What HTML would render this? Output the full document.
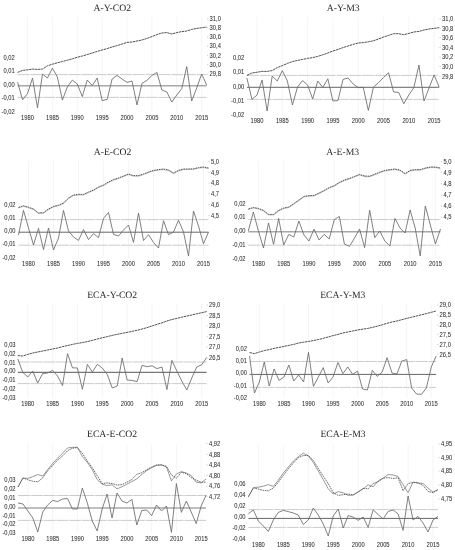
<!DOCTYPE html><html><head><meta charset="utf-8"><style>html,body{margin:0;padding:0;background:#fff;}svg{display:block;filter:blur(0.3px);}.t{font-family:"Liberation Serif",serif;font-size:9.7px;fill:#262626;text-rendering:geometricPrecision;}.a{font-family:"Liberation Sans",sans-serif;font-size:6.3px;fill:#333;stroke:#333;stroke-width:0.06px;}</style></head><body>
<svg width="455" height="550" viewBox="0 0 455 550">
<rect width="455" height="550" fill="#fff"/>
<g><line x1="27.55" y1="17" x2="27.55" y2="112" stroke="#f2f2f2" stroke-width="0.8"/><line x1="52.42" y1="17" x2="52.42" y2="112" stroke="#f2f2f2" stroke-width="0.8"/><line x1="77.30" y1="17" x2="77.30" y2="112" stroke="#f2f2f2" stroke-width="0.8"/><line x1="102.17" y1="17" x2="102.17" y2="112" stroke="#f2f2f2" stroke-width="0.8"/><line x1="127.05" y1="17" x2="127.05" y2="112" stroke="#f2f2f2" stroke-width="0.8"/><line x1="151.92" y1="17" x2="151.92" y2="112" stroke="#f2f2f2" stroke-width="0.8"/><line x1="176.80" y1="17" x2="176.80" y2="112" stroke="#f2f2f2" stroke-width="0.8"/><line x1="201.67" y1="17" x2="201.67" y2="112" stroke="#f2f2f2" stroke-width="0.8"/><line x1="17.60" y1="74.6" x2="206.65" y2="74.6" stroke="#c6c6c6" stroke-width="0.9" stroke-dasharray="12,0.8"/><line x1="17.60" y1="97.4" x2="206.65" y2="97.4" stroke="#c6c6c6" stroke-width="0.9" stroke-dasharray="12,0.8"/><line x1="17.60" y1="85.7" x2="206.65" y2="85.7" stroke="#a8a8a8" stroke-width="1.6"/><polyline points="17.60,72.40 22.58,70.40 27.55,69.80 32.52,69.10 37.50,69.40 42.48,69.10 47.45,65.80 52.42,64.20 57.40,62.80 62.38,61.50 67.35,60.20 72.32,58.80 77.30,57.30 82.28,56.00 87.25,54.60 92.22,53.00 97.20,51.40 102.17,50.00 107.15,48.60 112.12,47.00 117.10,45.60 122.07,44.00 127.05,42.40 132.03,42.00 137.00,41.00 141.97,40.00 146.95,38.40 151.92,36.60 156.90,34.60 161.87,33.00 166.85,32.60 171.82,34.00 176.80,32.60 181.77,31.60 186.75,31.00 191.72,29.40 196.70,28.40 201.67,27.80 206.65,27.00" fill="none" stroke="#3a3a3a" stroke-width="0.9" stroke-dasharray="2.4,0.6"/><polyline points="17.60,82.30 22.58,99.80 27.55,93.50 32.52,78.10 37.50,107.80 42.48,74.10 47.45,78.10 52.42,68.20 57.40,77.00 62.38,100.10 67.35,86.90 72.32,80.10 77.30,84.00 82.28,96.60 87.25,80.00 92.22,85.60 97.20,78.00 102.17,100.60 107.15,99.40 112.12,79.00 117.10,75.40 122.07,79.00 127.05,82.40 132.03,81.00 137.00,105.00 141.97,83.40 146.95,80.30 151.92,75.50 156.90,72.40 161.87,90.00 166.85,92.00 171.82,102.00 176.80,95.00 181.77,88.60 186.75,66.60 191.72,101.00 196.70,88.00 201.67,74.00 206.65,85.00" fill="none" stroke="#6a6a6a" stroke-width="0.85" stroke-linejoin="miter"/><text class="t" x="112.3" y="11.30" text-anchor="middle">A-Y-CO2</text><text class="a" transform="translate(14.8,59.70) scale(0.92,1)" text-anchor="end">0,02</text><text class="a" transform="translate(14.8,73.30) scale(0.92,1)" text-anchor="end">0,01</text><text class="a" transform="translate(14.8,86.60) scale(0.92,1)" text-anchor="end">0,00</text><text class="a" transform="translate(14.8,100.20) scale(0.92,1)" text-anchor="end">-0,01</text><text class="a" transform="translate(14.8,114.20) scale(0.92,1)" text-anchor="end">-0,02</text><line x1="207.00" y1="18.90" x2="208.30" y2="18.90" stroke="#c4c4c4" stroke-width="0.8"/><text class="a" transform="translate(209.6,21.10) scale(0.92,1)">31,0</text><line x1="207.00" y1="27.90" x2="208.30" y2="27.90" stroke="#c4c4c4" stroke-width="0.8"/><text class="a" transform="translate(209.6,30.10) scale(0.92,1)">30,8</text><line x1="207.00" y1="37.00" x2="208.30" y2="37.00" stroke="#c4c4c4" stroke-width="0.8"/><text class="a" transform="translate(209.6,39.20) scale(0.92,1)">30,6</text><line x1="207.00" y1="46.20" x2="208.30" y2="46.20" stroke="#c4c4c4" stroke-width="0.8"/><text class="a" transform="translate(209.6,48.40) scale(0.92,1)">30,4</text><line x1="207.00" y1="55.40" x2="208.30" y2="55.40" stroke="#c4c4c4" stroke-width="0.8"/><text class="a" transform="translate(209.6,57.60) scale(0.92,1)">30,2</text><line x1="207.00" y1="64.60" x2="208.30" y2="64.60" stroke="#c4c4c4" stroke-width="0.8"/><text class="a" transform="translate(209.6,66.80) scale(0.92,1)">30,0</text><line x1="207.00" y1="74.00" x2="208.30" y2="74.00" stroke="#c4c4c4" stroke-width="0.8"/><text class="a" transform="translate(209.6,76.20) scale(0.92,1)">29,8</text><text class="a" transform="translate(27.55,119.80) scale(0.92,1)" text-anchor="middle">1980</text><text class="a" transform="translate(52.42,119.80) scale(0.92,1)" text-anchor="middle">1985</text><text class="a" transform="translate(77.30,119.80) scale(0.92,1)" text-anchor="middle">1990</text><text class="a" transform="translate(102.17,119.80) scale(0.92,1)" text-anchor="middle">1995</text><text class="a" transform="translate(127.05,119.80) scale(0.92,1)" text-anchor="middle">2000</text><text class="a" transform="translate(151.92,119.80) scale(0.92,1)" text-anchor="middle">2005</text><text class="a" transform="translate(176.80,119.80) scale(0.92,1)" text-anchor="middle">2010</text><text class="a" transform="translate(201.67,119.80) scale(0.92,1)" text-anchor="middle">2015</text></g>
<g><line x1="257.02" y1="17" x2="257.02" y2="115" stroke="#f2f2f2" stroke-width="0.8"/><line x1="282.32" y1="17" x2="282.32" y2="115" stroke="#f2f2f2" stroke-width="0.8"/><line x1="307.62" y1="17" x2="307.62" y2="115" stroke="#f2f2f2" stroke-width="0.8"/><line x1="332.92" y1="17" x2="332.92" y2="115" stroke="#f2f2f2" stroke-width="0.8"/><line x1="358.22" y1="17" x2="358.22" y2="115" stroke="#f2f2f2" stroke-width="0.8"/><line x1="383.52" y1="17" x2="383.52" y2="115" stroke="#f2f2f2" stroke-width="0.8"/><line x1="408.82" y1="17" x2="408.82" y2="115" stroke="#f2f2f2" stroke-width="0.8"/><line x1="434.12" y1="17" x2="434.12" y2="115" stroke="#f2f2f2" stroke-width="0.8"/><line x1="246.90" y1="75.4" x2="439.18" y2="75.4" stroke="#c6c6c6" stroke-width="0.9" stroke-dasharray="12,0.8"/><line x1="246.90" y1="99.4" x2="439.18" y2="99.4" stroke="#c6c6c6" stroke-width="0.9" stroke-dasharray="12,0.8"/><line x1="246.90" y1="87.3" x2="439.18" y2="87.3" stroke="#555" stroke-width="0.9"/><polyline points="246.90,75.40 251.96,73.00 257.02,72.20 262.08,71.40 267.14,71.40 272.20,70.60 277.26,67.60 282.32,65.60 287.38,63.40 292.44,61.60 297.50,60.40 302.56,59.40 307.62,58.40 312.68,57.60 317.74,56.40 322.80,54.80 327.86,53.00 332.92,51.00 337.98,49.40 343.04,47.60 348.10,46.00 353.16,44.40 358.22,43.00 363.28,42.60 368.34,41.80 373.40,40.80 378.46,39.00 383.52,37.00 388.58,35.40 393.64,33.70 398.70,33.70 403.76,34.70 408.82,33.40 413.88,32.00 418.94,31.40 424.00,30.00 429.06,29.00 434.12,28.40 439.18,27.60" fill="none" stroke="#3a3a3a" stroke-width="0.9" stroke-dasharray="2.4,0.6"/><polyline points="246.90,78.00 251.96,99.40 257.02,95.00 262.08,80.00 267.14,111.00 272.20,76.00 277.26,81.00 282.32,70.60 287.38,81.00 292.44,105.00 297.50,87.00 302.56,80.60 307.62,85.00 312.68,99.00 317.74,81.00 322.80,87.40 327.86,78.80 332.92,101.00 337.98,100.60 343.04,79.40 348.10,78.00 353.16,84.00 358.22,87.60 363.28,87.40 368.34,110.50 373.40,87.20 378.46,82.70 383.52,77.50 388.58,72.80 393.64,92.00 398.70,92.40 403.76,103.80 408.82,95.00 413.88,87.60 418.94,65.00 424.00,101.00 429.06,88.00 434.12,75.00 439.18,87.00" fill="none" stroke="#6a6a6a" stroke-width="0.85" stroke-linejoin="miter"/><text class="t" x="343.2" y="11.40" text-anchor="middle">A-Y-M3</text><text class="a" transform="translate(244.3,60.40) scale(0.92,1)" text-anchor="end">0,02</text><text class="a" transform="translate(244.3,74.30) scale(0.92,1)" text-anchor="end">0,01</text><text class="a" transform="translate(244.3,88.70) scale(0.92,1)" text-anchor="end">0,00</text><text class="a" transform="translate(244.3,102.70) scale(0.92,1)" text-anchor="end">-0,01</text><text class="a" transform="translate(244.3,117.00) scale(0.92,1)" text-anchor="end">-0,02</text><line x1="439.40" y1="19.00" x2="440.70" y2="19.00" stroke="#c4c4c4" stroke-width="0.8"/><text class="a" transform="translate(442,21.20) scale(0.92,1)">31,0</text><line x1="439.40" y1="28.40" x2="440.70" y2="28.40" stroke="#c4c4c4" stroke-width="0.8"/><text class="a" transform="translate(442,30.60) scale(0.92,1)">30,8</text><line x1="439.40" y1="37.60" x2="440.70" y2="37.60" stroke="#c4c4c4" stroke-width="0.8"/><text class="a" transform="translate(442,39.80) scale(0.92,1)">30,6</text><line x1="439.40" y1="47.40" x2="440.70" y2="47.40" stroke="#c4c4c4" stroke-width="0.8"/><text class="a" transform="translate(442,49.60) scale(0.92,1)">30,4</text><line x1="439.40" y1="57.00" x2="440.70" y2="57.00" stroke="#c4c4c4" stroke-width="0.8"/><text class="a" transform="translate(442,59.20) scale(0.92,1)">30,2</text><line x1="439.40" y1="66.40" x2="440.70" y2="66.40" stroke="#c4c4c4" stroke-width="0.8"/><text class="a" transform="translate(442,68.60) scale(0.92,1)">30,0</text><line x1="439.40" y1="76.40" x2="440.70" y2="76.40" stroke="#c4c4c4" stroke-width="0.8"/><text class="a" transform="translate(442,78.60) scale(0.92,1)">29,8</text><text class="a" transform="translate(257.02,122.80) scale(0.92,1)" text-anchor="middle">1980</text><text class="a" transform="translate(282.32,122.80) scale(0.92,1)" text-anchor="middle">1985</text><text class="a" transform="translate(307.62,122.80) scale(0.92,1)" text-anchor="middle">1990</text><text class="a" transform="translate(332.92,122.80) scale(0.92,1)" text-anchor="middle">1995</text><text class="a" transform="translate(358.22,122.80) scale(0.92,1)" text-anchor="middle">2000</text><text class="a" transform="translate(383.52,122.80) scale(0.92,1)" text-anchor="middle">2005</text><text class="a" transform="translate(408.82,122.80) scale(0.92,1)" text-anchor="middle">2010</text><text class="a" transform="translate(434.12,122.80) scale(0.92,1)" text-anchor="middle">2015</text></g>
<g><line x1="28.50" y1="161" x2="28.50" y2="258" stroke="#f2f2f2" stroke-width="0.8"/><line x1="53.50" y1="161" x2="53.50" y2="258" stroke="#f2f2f2" stroke-width="0.8"/><line x1="78.50" y1="161" x2="78.50" y2="258" stroke="#f2f2f2" stroke-width="0.8"/><line x1="103.50" y1="161" x2="103.50" y2="258" stroke="#f2f2f2" stroke-width="0.8"/><line x1="128.50" y1="161" x2="128.50" y2="258" stroke="#f2f2f2" stroke-width="0.8"/><line x1="153.50" y1="161" x2="153.50" y2="258" stroke="#f2f2f2" stroke-width="0.8"/><line x1="178.50" y1="161" x2="178.50" y2="258" stroke="#f2f2f2" stroke-width="0.8"/><line x1="203.50" y1="161" x2="203.50" y2="258" stroke="#f2f2f2" stroke-width="0.8"/><line x1="18.50" y1="219.6" x2="208.50" y2="219.6" stroke="#c6c6c6" stroke-width="0.9" stroke-dasharray="12,0.8"/><line x1="18.50" y1="245.2" x2="208.50" y2="245.2" stroke="#c6c6c6" stroke-width="0.9" stroke-dasharray="12,0.8"/><line x1="18.50" y1="232.2" x2="208.50" y2="232.2" stroke="#555" stroke-width="0.9"/><polyline points="18.50,208.00 23.50,206.40 28.50,207.80 33.50,209.60 38.50,213.60 43.50,213.20 48.50,209.60 53.50,207.00 58.50,205.80 63.50,203.60 68.50,198.60 73.50,195.60 78.50,195.00 83.50,195.00 88.50,192.60 93.50,190.60 98.50,187.60 103.50,185.60 108.50,182.60 113.50,180.20 118.50,178.60 123.50,176.60 128.50,174.60 133.50,176.20 138.50,176.20 143.50,174.60 148.50,172.60 153.50,171.00 158.50,170.20 163.50,169.60 168.50,170.60 173.50,173.60 178.50,171.00 183.50,169.60 188.50,169.60 193.50,169.40 198.50,168.20 203.50,167.60 208.50,168.60" fill="none" stroke="#aaa" stroke-width="0.7"/><polyline points="18.50,207.40 23.50,205.80 28.50,207.20 33.50,209.00 38.50,213.00 43.50,212.60 48.50,209.00 53.50,206.40 58.50,205.20 63.50,203.00 68.50,198.00 73.50,195.00 78.50,194.40 83.50,194.40 88.50,192.00 93.50,190.00 98.50,187.00 103.50,185.00 108.50,182.00 113.50,179.60 118.50,178.00 123.50,176.00 128.50,174.00 133.50,175.60 138.50,175.60 143.50,174.00 148.50,172.00 153.50,170.40 158.50,169.60 163.50,169.00 168.50,170.00 173.50,173.00 178.50,170.40 183.50,169.00 188.50,169.00 193.50,168.80 198.50,167.60 203.50,167.00 208.50,168.00" fill="none" stroke="#444" stroke-width="0.9" stroke-dasharray="1.6,0.8"/><polyline points="18.50,235.00 23.50,210.40 28.50,228.00 33.50,245.00 38.50,228.40 43.50,249.60 48.50,228.00 53.50,250.00 58.50,238.00 63.50,210.40 68.50,231.00 73.50,237.00 78.50,240.40 83.50,229.60 88.50,239.60 93.50,233.60 98.50,237.60 103.50,218.40 108.50,212.40 113.50,234.40 118.50,236.00 123.50,230.00 128.50,225.00 133.50,242.40 138.50,213.00 143.50,240.50 148.50,234.70 153.50,242.50 158.50,248.00 163.50,220.70 168.50,234.70 173.50,232.00 178.50,220.20 183.50,232.00 188.50,256.00 193.50,211.00 198.50,226.00 203.50,243.80 208.50,232.00" fill="none" stroke="#6a6a6a" stroke-width="0.85" stroke-linejoin="miter"/><text class="t" x="112.5" y="154.70" text-anchor="middle">A-E-CO2</text><text class="a" transform="translate(15.6,206.80) scale(0.92,1)" text-anchor="end">0,02</text><text class="a" transform="translate(15.6,220.20) scale(0.92,1)" text-anchor="end">0,01</text><text class="a" transform="translate(15.6,233.20) scale(0.92,1)" text-anchor="end">0,00</text><text class="a" transform="translate(15.6,246.20) scale(0.92,1)" text-anchor="end">-0,01</text><text class="a" transform="translate(15.6,259.80) scale(0.92,1)" text-anchor="end">-0,02</text><line x1="208.40" y1="161.60" x2="209.70" y2="161.60" stroke="#c4c4c4" stroke-width="0.8"/><text class="a" transform="translate(211,163.80) scale(0.92,1)">5,0</text><line x1="208.40" y1="172.40" x2="209.70" y2="172.40" stroke="#c4c4c4" stroke-width="0.8"/><text class="a" transform="translate(211,174.60) scale(0.92,1)">4,9</text><line x1="208.40" y1="183.00" x2="209.70" y2="183.00" stroke="#c4c4c4" stroke-width="0.8"/><text class="a" transform="translate(211,185.20) scale(0.92,1)">4,8</text><line x1="208.40" y1="193.60" x2="209.70" y2="193.60" stroke="#c4c4c4" stroke-width="0.8"/><text class="a" transform="translate(211,195.80) scale(0.92,1)">4,7</text><line x1="208.40" y1="204.40" x2="209.70" y2="204.40" stroke="#c4c4c4" stroke-width="0.8"/><text class="a" transform="translate(211,206.60) scale(0.92,1)">4,6</text><line x1="208.40" y1="215.60" x2="209.70" y2="215.60" stroke="#c4c4c4" stroke-width="0.8"/><text class="a" transform="translate(211,217.80) scale(0.92,1)">4,5</text><text class="a" transform="translate(28.50,265.80) scale(0.92,1)" text-anchor="middle">1980</text><text class="a" transform="translate(53.50,265.80) scale(0.92,1)" text-anchor="middle">1985</text><text class="a" transform="translate(78.50,265.80) scale(0.92,1)" text-anchor="middle">1990</text><text class="a" transform="translate(103.50,265.80) scale(0.92,1)" text-anchor="middle">1995</text><text class="a" transform="translate(128.50,265.80) scale(0.92,1)" text-anchor="middle">2000</text><text class="a" transform="translate(153.50,265.80) scale(0.92,1)" text-anchor="middle">2005</text><text class="a" transform="translate(178.50,265.80) scale(0.92,1)" text-anchor="middle">2010</text><text class="a" transform="translate(203.50,265.80) scale(0.92,1)" text-anchor="middle">2015</text></g>
<g><line x1="258.41" y1="161" x2="258.41" y2="258" stroke="#f2f2f2" stroke-width="0.8"/><line x1="283.70" y1="161" x2="283.70" y2="258" stroke="#f2f2f2" stroke-width="0.8"/><line x1="308.98" y1="161" x2="308.98" y2="258" stroke="#f2f2f2" stroke-width="0.8"/><line x1="334.27" y1="161" x2="334.27" y2="258" stroke="#f2f2f2" stroke-width="0.8"/><line x1="359.55" y1="161" x2="359.55" y2="258" stroke="#f2f2f2" stroke-width="0.8"/><line x1="384.84" y1="161" x2="384.84" y2="258" stroke="#f2f2f2" stroke-width="0.8"/><line x1="410.12" y1="161" x2="410.12" y2="258" stroke="#f2f2f2" stroke-width="0.8"/><line x1="435.41" y1="161" x2="435.41" y2="258" stroke="#f2f2f2" stroke-width="0.8"/><line x1="248.30" y1="219.5" x2="440.47" y2="219.5" stroke="#c6c6c6" stroke-width="0.9" stroke-dasharray="12,0.8"/><line x1="248.30" y1="245.2" x2="440.47" y2="245.2" stroke="#c6c6c6" stroke-width="0.9" stroke-dasharray="12,0.8"/><line x1="248.30" y1="231.8" x2="440.47" y2="231.8" stroke="#a8a8a8" stroke-width="1.6"/><polyline points="248.30,209.60 253.36,208.00 258.41,209.00 263.47,211.00 268.53,215.00 273.59,215.00 278.64,211.00 283.70,208.60 288.76,207.60 293.81,204.20 298.87,200.60 303.93,197.00 308.98,196.20 314.04,196.00 319.10,193.60 324.16,191.00 329.21,188.20 334.27,186.20 339.33,183.00 344.38,180.60 349.44,179.00 354.50,177.00 359.55,175.00 364.61,176.60 369.67,176.80 374.73,174.80 379.78,172.80 384.84,171.00 389.90,170.20 394.95,169.60 400.01,170.60 405.07,174.20 410.12,171.00 415.18,170.20 420.24,170.20 425.30,168.60 430.35,167.60 435.41,167.60 440.47,168.60" fill="none" stroke="#aaa" stroke-width="0.7"/><polyline points="248.30,209.00 253.36,207.40 258.41,208.40 263.47,210.40 268.53,214.40 273.59,214.40 278.64,210.40 283.70,208.00 288.76,207.00 293.81,203.60 298.87,200.00 303.93,196.40 308.98,195.60 314.04,195.40 319.10,193.00 324.16,190.40 329.21,187.60 334.27,185.60 339.33,182.40 344.38,180.00 349.44,178.40 354.50,176.40 359.55,174.40 364.61,176.00 369.67,176.20 374.73,174.20 379.78,172.20 384.84,170.40 389.90,169.60 394.95,169.00 400.01,170.00 405.07,173.60 410.12,170.40 415.18,169.60 420.24,169.60 425.30,168.00 430.35,167.00 435.41,167.00 440.47,168.00" fill="none" stroke="#444" stroke-width="0.9" stroke-dasharray="1.6,0.8"/><polyline points="248.30,231.00 253.36,212.00 258.41,231.00 263.47,248.00 268.53,223.00 273.59,244.40 278.64,218.40 283.70,245.00 288.76,234.40 293.81,237.00 298.87,221.00 303.93,235.00 308.98,241.00 314.04,229.00 319.10,240.00 324.16,234.40 329.21,239.00 334.27,219.60 339.33,216.40 344.38,244.00 349.44,246.40 354.50,238.00 359.55,229.00 364.61,247.60 369.67,210.20 374.73,237.60 379.78,231.00 384.84,241.00 389.90,246.00 394.95,218.40 400.01,228.00 405.07,233.00 410.12,210.00 415.18,228.00 420.24,256.00 425.30,206.00 430.35,225.00 435.41,244.00 440.47,229.00" fill="none" stroke="#6a6a6a" stroke-width="0.85" stroke-linejoin="miter"/><text class="t" x="342.7" y="154.60" text-anchor="middle">A-E-M3</text><text class="a" transform="translate(245.6,205.80) scale(0.92,1)" text-anchor="end">0,02</text><text class="a" transform="translate(245.6,219.20) scale(0.92,1)" text-anchor="end">0,01</text><text class="a" transform="translate(245.6,232.80) scale(0.92,1)" text-anchor="end">0,00</text><text class="a" transform="translate(245.6,246.60) scale(0.92,1)" text-anchor="end">-0,01</text><text class="a" transform="translate(245.6,260.60) scale(0.92,1)" text-anchor="end">-0,02</text><line x1="440.80" y1="161.60" x2="442.10" y2="161.60" stroke="#c4c4c4" stroke-width="0.8"/><text class="a" transform="translate(443.4,163.80) scale(0.92,1)">5,0</text><line x1="440.80" y1="172.40" x2="442.10" y2="172.40" stroke="#c4c4c4" stroke-width="0.8"/><text class="a" transform="translate(443.4,174.60) scale(0.92,1)">4,9</text><line x1="440.80" y1="183.60" x2="442.10" y2="183.60" stroke="#c4c4c4" stroke-width="0.8"/><text class="a" transform="translate(443.4,185.80) scale(0.92,1)">4,8</text><line x1="440.80" y1="195.00" x2="442.10" y2="195.00" stroke="#c4c4c4" stroke-width="0.8"/><text class="a" transform="translate(443.4,197.20) scale(0.92,1)">4,7</text><line x1="440.80" y1="206.00" x2="442.10" y2="206.00" stroke="#c4c4c4" stroke-width="0.8"/><text class="a" transform="translate(443.4,208.20) scale(0.92,1)">4,6</text><line x1="440.80" y1="217.00" x2="442.10" y2="217.00" stroke="#c4c4c4" stroke-width="0.8"/><text class="a" transform="translate(443.4,219.20) scale(0.92,1)">4,5</text><text class="a" transform="translate(258.41,266.20) scale(0.92,1)" text-anchor="middle">1980</text><text class="a" transform="translate(283.70,266.20) scale(0.92,1)" text-anchor="middle">1985</text><text class="a" transform="translate(308.98,266.20) scale(0.92,1)" text-anchor="middle">1990</text><text class="a" transform="translate(334.27,266.20) scale(0.92,1)" text-anchor="middle">1995</text><text class="a" transform="translate(359.55,266.20) scale(0.92,1)" text-anchor="middle">2000</text><text class="a" transform="translate(384.84,266.20) scale(0.92,1)" text-anchor="middle">2005</text><text class="a" transform="translate(410.12,266.20) scale(0.92,1)" text-anchor="middle">2010</text><text class="a" transform="translate(435.41,266.20) scale(0.92,1)" text-anchor="middle">2015</text></g>
<g><line x1="27.74" y1="304" x2="27.74" y2="398" stroke="#f2f2f2" stroke-width="0.8"/><line x1="52.59" y1="304" x2="52.59" y2="398" stroke="#f2f2f2" stroke-width="0.8"/><line x1="77.44" y1="304" x2="77.44" y2="398" stroke="#f2f2f2" stroke-width="0.8"/><line x1="102.29" y1="304" x2="102.29" y2="398" stroke="#f2f2f2" stroke-width="0.8"/><line x1="127.14" y1="304" x2="127.14" y2="398" stroke="#f2f2f2" stroke-width="0.8"/><line x1="151.99" y1="304" x2="151.99" y2="398" stroke="#f2f2f2" stroke-width="0.8"/><line x1="176.84" y1="304" x2="176.84" y2="398" stroke="#f2f2f2" stroke-width="0.8"/><line x1="201.69" y1="304" x2="201.69" y2="398" stroke="#f2f2f2" stroke-width="0.8"/><line x1="17.80" y1="362" x2="206.66" y2="362" stroke="#c6c6c6" stroke-width="0.9" stroke-dasharray="12,0.8"/><line x1="17.80" y1="383.6" x2="206.66" y2="383.6" stroke="#c6c6c6" stroke-width="0.9" stroke-dasharray="12,0.8"/><line x1="17.80" y1="372.4" x2="206.66" y2="372.4" stroke="#777" stroke-width="1.1"/><polyline points="17.80,355.60 22.77,356.00 27.74,354.40 32.71,353.00 37.68,352.00 42.65,351.00 47.62,350.00 52.59,349.00 57.56,348.00 62.53,346.60 67.50,345.60 72.47,344.40 77.44,343.40 82.41,342.60 87.38,341.60 92.35,340.40 97.32,339.00 102.29,337.80 107.26,336.60 112.23,335.40 117.20,334.30 122.17,333.30 127.14,332.40 132.11,331.40 137.08,330.30 142.05,329.00 147.02,327.60 151.99,326.00 156.96,324.30 161.93,322.90 166.90,321.00 171.87,319.50 176.84,318.40 181.81,317.20 186.78,316.00 191.75,315.00 196.72,313.80 201.69,312.70 206.66,311.60" fill="none" stroke="#3a3a3a" stroke-width="0.9" stroke-dasharray="2.4,0.6"/><polyline points="17.80,359.00 22.77,372.40 27.74,377.00 32.71,371.00 37.68,383.00 42.65,373.60 47.62,373.00 52.59,370.40 57.56,376.00 62.53,385.60 67.50,353.60 72.47,367.80 77.44,368.00 82.41,389.30 87.38,364.40 92.35,372.00 97.32,364.40 102.29,368.00 107.26,374.40 112.23,388.00 117.20,386.00 122.17,358.00 127.14,380.00 132.11,380.40 137.08,381.60 142.05,365.40 147.02,366.70 151.99,365.80 156.96,368.60 161.93,367.00 166.90,389.60 171.87,360.40 176.84,371.00 181.81,381.00 186.78,390.00 191.75,378.00 196.72,367.00 201.69,364.80 206.66,357.50" fill="none" stroke="#6a6a6a" stroke-width="0.85" stroke-linejoin="miter"/><text class="t" x="112.2" y="298.00" text-anchor="middle">ECA-Y-CO2</text><text class="a" transform="translate(15.6,347.20) scale(0.92,1)" text-anchor="end">0,03</text><text class="a" transform="translate(15.6,356.20) scale(0.92,1)" text-anchor="end">0,02</text><text class="a" transform="translate(15.6,364.60) scale(0.92,1)" text-anchor="end">0,01</text><text class="a" transform="translate(15.6,373.40) scale(0.92,1)" text-anchor="end">0,00</text><text class="a" transform="translate(15.6,382.20) scale(0.92,1)" text-anchor="end">-0,01</text><text class="a" transform="translate(15.6,391.20) scale(0.92,1)" text-anchor="end">-0,02</text><text class="a" transform="translate(15.6,400.20) scale(0.92,1)" text-anchor="end">-0,03</text><line x1="206.40" y1="305.00" x2="207.70" y2="305.00" stroke="#c4c4c4" stroke-width="0.8"/><text class="a" transform="translate(209,307.20) scale(0.92,1)">29,0</text><line x1="206.40" y1="315.40" x2="207.70" y2="315.40" stroke="#c4c4c4" stroke-width="0.8"/><text class="a" transform="translate(209,317.60) scale(0.92,1)">28,5</text><line x1="206.40" y1="326.00" x2="207.70" y2="326.00" stroke="#c4c4c4" stroke-width="0.8"/><text class="a" transform="translate(209,328.20) scale(0.92,1)">28,0</text><line x1="206.40" y1="336.60" x2="207.70" y2="336.60" stroke="#c4c4c4" stroke-width="0.8"/><text class="a" transform="translate(209,338.80) scale(0.92,1)">27,5</text><line x1="206.40" y1="347.00" x2="207.70" y2="347.00" stroke="#c4c4c4" stroke-width="0.8"/><text class="a" transform="translate(209,349.20) scale(0.92,1)">27,0</text><line x1="206.40" y1="357.60" x2="207.70" y2="357.60" stroke="#c4c4c4" stroke-width="0.8"/><text class="a" transform="translate(209,359.80) scale(0.92,1)">26,5</text><text class="a" transform="translate(27.74,405.80) scale(0.92,1)" text-anchor="middle">1980</text><text class="a" transform="translate(52.59,405.80) scale(0.92,1)" text-anchor="middle">1985</text><text class="a" transform="translate(77.44,405.80) scale(0.92,1)" text-anchor="middle">1990</text><text class="a" transform="translate(102.29,405.80) scale(0.92,1)" text-anchor="middle">1995</text><text class="a" transform="translate(127.14,405.80) scale(0.92,1)" text-anchor="middle">2000</text><text class="a" transform="translate(151.99,405.80) scale(0.92,1)" text-anchor="middle">2005</text><text class="a" transform="translate(176.84,405.80) scale(0.92,1)" text-anchor="middle">2010</text><text class="a" transform="translate(201.69,405.80) scale(0.92,1)" text-anchor="middle">2015</text></g>
<g><line x1="259.37" y1="304" x2="259.37" y2="398" stroke="#f2f2f2" stroke-width="0.8"/><line x1="283.93" y1="304" x2="283.93" y2="398" stroke="#f2f2f2" stroke-width="0.8"/><line x1="308.49" y1="304" x2="308.49" y2="398" stroke="#f2f2f2" stroke-width="0.8"/><line x1="333.05" y1="304" x2="333.05" y2="398" stroke="#f2f2f2" stroke-width="0.8"/><line x1="357.61" y1="304" x2="357.61" y2="398" stroke="#f2f2f2" stroke-width="0.8"/><line x1="382.17" y1="304" x2="382.17" y2="398" stroke="#f2f2f2" stroke-width="0.8"/><line x1="406.73" y1="304" x2="406.73" y2="398" stroke="#f2f2f2" stroke-width="0.8"/><line x1="431.29" y1="304" x2="431.29" y2="398" stroke="#f2f2f2" stroke-width="0.8"/><line x1="249.55" y1="361.5" x2="436.21" y2="361.5" stroke="#c6c6c6" stroke-width="0.9" stroke-dasharray="12,0.8"/><line x1="249.55" y1="387.4" x2="436.21" y2="387.4" stroke="#c6c6c6" stroke-width="0.9" stroke-dasharray="12,0.8"/><line x1="249.55" y1="374.4" x2="436.21" y2="374.4" stroke="#555" stroke-width="0.9"/><polyline points="249.55,352.60 254.46,353.60 259.37,352.00 264.29,350.60 269.20,349.60 274.11,348.40 279.02,347.40 283.93,346.40 288.85,345.40 293.76,344.40 298.67,343.00 303.58,342.20 308.49,341.50 313.41,340.50 318.32,339.60 323.23,338.40 328.14,337.00 333.05,335.60 337.97,334.40 342.88,333.00 347.79,332.00 352.70,331.00 357.61,330.00 362.53,329.20 367.44,328.50 372.35,327.40 377.26,326.20 382.17,324.80 387.09,323.30 392.00,322.00 396.91,321.00 401.82,319.70 406.73,318.40 411.65,317.20 416.56,316.00 421.47,314.80 426.38,313.60 431.29,312.30 436.21,311.00" fill="none" stroke="#3a3a3a" stroke-width="0.9" stroke-dasharray="2.4,0.6"/><polyline points="249.55,356.00 254.46,393.00 259.37,382.00 264.29,362.00 269.20,386.00 274.11,369.00 279.02,380.40 283.93,377.00 288.85,365.00 293.76,381.00 298.67,375.00 303.58,382.00 308.49,352.40 313.41,386.40 318.32,377.00 323.23,367.60 328.14,383.00 333.05,377.00 337.97,362.40 342.88,373.60 347.79,367.00 352.70,374.40 357.61,371.00 362.53,389.00 367.44,390.00 372.35,370.40 377.26,376.40 382.17,372.00 387.09,357.60 392.00,373.00 396.91,374.00 401.82,361.00 406.73,359.60 411.65,388.00 416.56,394.00 421.47,394.40 426.38,388.00 431.29,367.00 436.21,356.00" fill="none" stroke="#6a6a6a" stroke-width="0.85" stroke-linejoin="miter"/><text class="t" x="342.8" y="298.00" text-anchor="middle">ECA-Y-M3</text><text class="a" transform="translate(247,350.80) scale(0.92,1)" text-anchor="end">0,02</text><text class="a" transform="translate(247,363.20) scale(0.92,1)" text-anchor="end">0,01</text><text class="a" transform="translate(247,375.20) scale(0.92,1)" text-anchor="end">0,00</text><text class="a" transform="translate(247,387.80) scale(0.92,1)" text-anchor="end">-0,01</text><text class="a" transform="translate(247,400.20) scale(0.92,1)" text-anchor="end">-0,02</text><line x1="437.00" y1="305.00" x2="438.30" y2="305.00" stroke="#c4c4c4" stroke-width="0.8"/><text class="a" transform="translate(439.6,307.20) scale(0.92,1)">29,0</text><line x1="437.00" y1="315.00" x2="438.30" y2="315.00" stroke="#c4c4c4" stroke-width="0.8"/><text class="a" transform="translate(439.6,317.20) scale(0.92,1)">28,5</text><line x1="437.00" y1="325.00" x2="438.30" y2="325.00" stroke="#c4c4c4" stroke-width="0.8"/><text class="a" transform="translate(439.6,327.20) scale(0.92,1)">28,0</text><line x1="437.00" y1="334.60" x2="438.30" y2="334.60" stroke="#c4c4c4" stroke-width="0.8"/><text class="a" transform="translate(439.6,336.80) scale(0.92,1)">27,5</text><line x1="437.00" y1="344.40" x2="438.30" y2="344.40" stroke="#c4c4c4" stroke-width="0.8"/><text class="a" transform="translate(439.6,346.60) scale(0.92,1)">27,0</text><line x1="437.00" y1="354.40" x2="438.30" y2="354.40" stroke="#c4c4c4" stroke-width="0.8"/><text class="a" transform="translate(439.6,356.60) scale(0.92,1)">26,5</text><text class="a" transform="translate(259.37,405.80) scale(0.92,1)" text-anchor="middle">1980</text><text class="a" transform="translate(283.93,405.80) scale(0.92,1)" text-anchor="middle">1985</text><text class="a" transform="translate(308.49,405.80) scale(0.92,1)" text-anchor="middle">1990</text><text class="a" transform="translate(333.05,405.80) scale(0.92,1)" text-anchor="middle">1995</text><text class="a" transform="translate(357.61,405.80) scale(0.92,1)" text-anchor="middle">2000</text><text class="a" transform="translate(382.17,405.80) scale(0.92,1)" text-anchor="middle">2005</text><text class="a" transform="translate(406.73,405.80) scale(0.92,1)" text-anchor="middle">2010</text><text class="a" transform="translate(431.29,405.80) scale(0.92,1)" text-anchor="middle">2015</text></g>
<g><line x1="27.90" y1="444" x2="27.90" y2="533" stroke="#f2f2f2" stroke-width="0.8"/><line x1="52.65" y1="444" x2="52.65" y2="533" stroke="#f2f2f2" stroke-width="0.8"/><line x1="77.40" y1="444" x2="77.40" y2="533" stroke="#f2f2f2" stroke-width="0.8"/><line x1="102.15" y1="444" x2="102.15" y2="533" stroke="#f2f2f2" stroke-width="0.8"/><line x1="126.90" y1="444" x2="126.90" y2="533" stroke="#f2f2f2" stroke-width="0.8"/><line x1="151.65" y1="444" x2="151.65" y2="533" stroke="#f2f2f2" stroke-width="0.8"/><line x1="176.40" y1="444" x2="176.40" y2="533" stroke="#f2f2f2" stroke-width="0.8"/><line x1="201.15" y1="444" x2="201.15" y2="533" stroke="#f2f2f2" stroke-width="0.8"/><line x1="18.00" y1="495.5" x2="206.10" y2="495.5" stroke="#c6c6c6" stroke-width="0.9" stroke-dasharray="12,0.8"/><line x1="18.00" y1="520.4" x2="206.10" y2="520.4" stroke="#c6c6c6" stroke-width="0.9" stroke-dasharray="12,0.8"/><line x1="18.00" y1="508" x2="206.10" y2="508" stroke="#a8a8a8" stroke-width="1.6"/><polyline points="18.00,487.00 22.95,478.00 27.90,478.40 32.85,476.60 37.80,474.50 42.75,476.00 47.70,469.60 52.65,463.50 57.60,458.20 62.55,453.20 67.50,448.00 72.45,447.30 77.40,447.30 82.35,456.50 87.30,462.40 92.25,469.70 97.20,479.60 102.15,484.20 107.10,485.50 112.05,484.80 117.00,488.80 121.95,486.80 126.90,484.20 131.85,481.50 136.80,478.90 141.75,474.50 146.70,470.60 151.65,467.70 156.60,465.30 161.55,465.00 166.50,467.00 171.45,480.90 176.40,474.00 181.35,471.60 186.30,473.00 191.25,475.60 196.20,482.20 201.15,482.90 206.10,478.90" fill="none" stroke="#777" stroke-width="0.75"/><polyline points="18.00,487.00 22.95,478.00 27.90,479.80 32.85,481.30 37.80,481.80 42.75,477.80 47.70,470.80 52.65,465.50 57.60,460.00 62.55,456.00 67.50,450.80 72.45,448.20 77.40,447.60 82.35,453.20 87.30,461.00 92.25,467.70 97.20,475.60 102.15,483.50 107.10,482.90 112.05,483.50 117.00,485.10 121.95,484.60 126.90,482.20 131.85,479.60 136.80,474.30 141.75,472.70 146.70,469.70 151.65,467.00 156.60,465.00 161.55,464.80 166.50,466.40 171.45,475.00 176.40,478.20 181.35,472.30 186.30,473.60 191.25,477.60 196.20,480.20 201.15,482.20 206.10,482.20" fill="none" stroke="#444" stroke-width="0.8" stroke-dasharray="1.6,0.8"/><polyline points="18.00,503.00 22.95,504.00 27.90,511.00 32.85,518.00 37.80,532.00 42.75,512.00 47.70,505.00 52.65,500.40 57.60,501.60 62.55,499.00 67.50,498.50 72.45,509.00 77.40,509.00 82.35,488.00 87.30,503.00 92.25,521.00 97.20,531.00 102.15,509.00 107.10,494.00 112.05,518.00 117.00,493.00 121.95,501.00 126.90,503.00 131.85,499.40 136.80,525.00 141.75,510.50 146.70,510.00 151.65,515.60 156.60,505.00 161.55,511.00 166.50,506.00 171.45,532.40 176.40,483.60 181.35,512.40 186.30,501.00 191.25,512.00 196.20,523.60 201.15,506.00 206.10,495.00" fill="none" stroke="#6a6a6a" stroke-width="0.85" stroke-linejoin="miter"/><text class="t" x="112.0" y="436.80" text-anchor="middle">ECA-E-CO2</text><text class="a" transform="translate(15.6,482.20) scale(0.92,1)" text-anchor="end">0,03</text><text class="a" transform="translate(15.6,491.20) scale(0.92,1)" text-anchor="end">0,02</text><text class="a" transform="translate(15.6,499.80) scale(0.92,1)" text-anchor="end">0,01</text><text class="a" transform="translate(15.6,508.80) scale(0.92,1)" text-anchor="end">0,00</text><text class="a" transform="translate(15.6,517.60) scale(0.92,1)" text-anchor="end">-0,01</text><text class="a" transform="translate(15.6,526.20) scale(0.92,1)" text-anchor="end">-0,02</text><text class="a" transform="translate(15.6,535.20) scale(0.92,1)" text-anchor="end">-0,03</text><line x1="206.40" y1="443.60" x2="207.70" y2="443.60" stroke="#c4c4c4" stroke-width="0.8"/><text class="a" transform="translate(209,445.80) scale(0.92,1)">4,92</text><line x1="206.40" y1="454.40" x2="207.70" y2="454.40" stroke="#c4c4c4" stroke-width="0.8"/><text class="a" transform="translate(209,456.60) scale(0.92,1)">4,88</text><line x1="206.40" y1="465.00" x2="207.70" y2="465.00" stroke="#c4c4c4" stroke-width="0.8"/><text class="a" transform="translate(209,467.20) scale(0.92,1)">4,84</text><line x1="206.40" y1="475.60" x2="207.70" y2="475.60" stroke="#c4c4c4" stroke-width="0.8"/><text class="a" transform="translate(209,477.80) scale(0.92,1)">4,80</text><line x1="206.40" y1="486.00" x2="207.70" y2="486.00" stroke="#c4c4c4" stroke-width="0.8"/><text class="a" transform="translate(209,488.20) scale(0.92,1)">4,76</text><line x1="206.40" y1="496.60" x2="207.70" y2="496.60" stroke="#c4c4c4" stroke-width="0.8"/><text class="a" transform="translate(209,498.80) scale(0.92,1)">4,72</text><text class="a" transform="translate(27.90,540.70) scale(0.92,1)" text-anchor="middle">1980</text><text class="a" transform="translate(52.65,540.70) scale(0.92,1)" text-anchor="middle">1985</text><text class="a" transform="translate(77.40,540.70) scale(0.92,1)" text-anchor="middle">1990</text><text class="a" transform="translate(102.15,540.70) scale(0.92,1)" text-anchor="middle">1995</text><text class="a" transform="translate(126.90,540.70) scale(0.92,1)" text-anchor="middle">2000</text><text class="a" transform="translate(151.65,540.70) scale(0.92,1)" text-anchor="middle">2005</text><text class="a" transform="translate(176.40,540.70) scale(0.92,1)" text-anchor="middle">2010</text><text class="a" transform="translate(201.15,540.70) scale(0.92,1)" text-anchor="middle">2015</text></g>
<g><line x1="258.38" y1="445" x2="258.38" y2="539" stroke="#f2f2f2" stroke-width="0.8"/><line x1="283.33" y1="445" x2="283.33" y2="539" stroke="#f2f2f2" stroke-width="0.8"/><line x1="308.28" y1="445" x2="308.28" y2="539" stroke="#f2f2f2" stroke-width="0.8"/><line x1="333.23" y1="445" x2="333.23" y2="539" stroke="#f2f2f2" stroke-width="0.8"/><line x1="358.18" y1="445" x2="358.18" y2="539" stroke="#f2f2f2" stroke-width="0.8"/><line x1="383.13" y1="445" x2="383.13" y2="539" stroke="#f2f2f2" stroke-width="0.8"/><line x1="408.08" y1="445" x2="408.08" y2="539" stroke="#f2f2f2" stroke-width="0.8"/><line x1="433.03" y1="445" x2="433.03" y2="539" stroke="#f2f2f2" stroke-width="0.8"/><line x1="248.40" y1="509.6" x2="438.02" y2="509.6" stroke="#c6c6c6" stroke-width="0.9" stroke-dasharray="12,0.8"/><line x1="248.40" y1="527.4" x2="438.02" y2="527.4" stroke="#c6c6c6" stroke-width="0.9" stroke-dasharray="12,0.8"/><line x1="248.40" y1="518.4" x2="438.02" y2="518.4" stroke="#555" stroke-width="0.9"/><polyline points="248.40,496.70 253.39,487.50 258.38,487.20 263.37,486.20 268.36,484.60 273.35,486.40 278.34,480.20 283.33,473.00 288.32,467.00 293.31,461.10 298.30,456.70 303.29,453.20 308.28,455.80 313.27,462.40 318.26,471.00 323.25,479.60 328.24,488.80 333.23,494.00 338.22,491.70 343.21,492.70 348.20,495.40 353.19,495.00 358.18,492.10 363.17,488.80 368.16,484.80 373.15,486.80 378.14,480.90 383.13,478.20 388.12,474.60 393.11,475.00 398.10,476.50 403.09,484.80 408.08,492.70 413.07,482.00 418.06,482.90 423.05,483.50 428.04,488.10 433.03,492.10 438.02,489.50" fill="none" stroke="#777" stroke-width="0.75"/><polyline points="248.40,496.70 253.39,488.10 258.38,489.00 263.37,490.40 268.36,490.80 273.35,488.10 278.34,482.20 283.33,475.30 288.32,469.00 293.31,463.00 298.30,457.80 303.29,455.50 308.28,455.60 313.27,460.40 318.26,468.40 323.25,476.30 328.24,483.50 333.23,492.70 338.22,495.40 343.21,494.70 348.20,494.00 353.19,494.90 358.18,491.70 363.17,488.50 368.16,488.80 373.15,483.50 378.14,481.90 383.13,478.20 388.12,477.60 393.11,478.50 398.10,477.80 403.09,490.80 408.08,483.50 413.07,482.50 418.06,482.90 423.05,485.50 428.04,491.40 433.03,492.70 438.02,489.80" fill="none" stroke="#444" stroke-width="0.8" stroke-dasharray="1.6,0.8"/><polyline points="248.40,513.60 253.39,510.00 258.38,521.00 263.37,526.00 268.36,531.40 273.35,520.00 278.34,512.40 283.33,510.40 288.32,511.60 293.31,513.00 298.30,515.00 303.29,524.50 308.28,520.00 313.27,508.00 318.26,515.00 323.25,524.00 328.24,536.00 333.23,516.00 338.22,509.00 343.21,528.00 348.20,515.60 353.19,517.00 358.18,520.40 363.17,517.00 368.16,527.40 373.15,509.80 378.14,514.50 383.13,519.00 388.12,511.40 393.11,510.00 398.10,514.00 403.09,530.40 408.08,496.00 413.07,520.00 418.06,516.40 423.05,523.00 428.04,532.00 433.03,520.00 438.02,516.40" fill="none" stroke="#6a6a6a" stroke-width="0.85" stroke-linejoin="miter"/><text class="t" x="343.0" y="436.80" text-anchor="middle">ECA-E-M3</text><text class="a" transform="translate(245.6,486.20) scale(0.92,1)" text-anchor="end">0,06</text><text class="a" transform="translate(245.6,497.20) scale(0.92,1)" text-anchor="end">0,04</text><text class="a" transform="translate(245.6,508.20) scale(0.92,1)" text-anchor="end">0,02</text><text class="a" transform="translate(245.6,519.20) scale(0.92,1)" text-anchor="end">0,00</text><text class="a" transform="translate(245.6,530.20) scale(0.92,1)" text-anchor="end">-0,02</text><text class="a" transform="translate(245.6,541.20) scale(0.92,1)" text-anchor="end">-0,04</text><line x1="438.40" y1="444.00" x2="439.70" y2="444.00" stroke="#c4c4c4" stroke-width="0.8"/><text class="a" transform="translate(441,446.20) scale(0.92,1)">4,95</text><line x1="438.40" y1="457.60" x2="439.70" y2="457.60" stroke="#c4c4c4" stroke-width="0.8"/><text class="a" transform="translate(441,459.80) scale(0.92,1)">4,90</text><line x1="438.40" y1="471.00" x2="439.70" y2="471.00" stroke="#c4c4c4" stroke-width="0.8"/><text class="a" transform="translate(441,473.20) scale(0.92,1)">4,85</text><line x1="438.40" y1="485.00" x2="439.70" y2="485.00" stroke="#c4c4c4" stroke-width="0.8"/><text class="a" transform="translate(441,487.20) scale(0.92,1)">4,80</text><line x1="438.40" y1="499.00" x2="439.70" y2="499.00" stroke="#c4c4c4" stroke-width="0.8"/><text class="a" transform="translate(441,501.20) scale(0.92,1)">4,75</text><text class="a" transform="translate(258.38,546.70) scale(0.92,1)" text-anchor="middle">1980</text><text class="a" transform="translate(283.33,546.70) scale(0.92,1)" text-anchor="middle">1985</text><text class="a" transform="translate(308.28,546.70) scale(0.92,1)" text-anchor="middle">1990</text><text class="a" transform="translate(333.23,546.70) scale(0.92,1)" text-anchor="middle">1995</text><text class="a" transform="translate(358.18,546.70) scale(0.92,1)" text-anchor="middle">2000</text><text class="a" transform="translate(383.13,546.70) scale(0.92,1)" text-anchor="middle">2005</text><text class="a" transform="translate(408.08,546.70) scale(0.92,1)" text-anchor="middle">2010</text><text class="a" transform="translate(433.03,546.70) scale(0.92,1)" text-anchor="middle">2015</text></g>
</svg></body></html>
